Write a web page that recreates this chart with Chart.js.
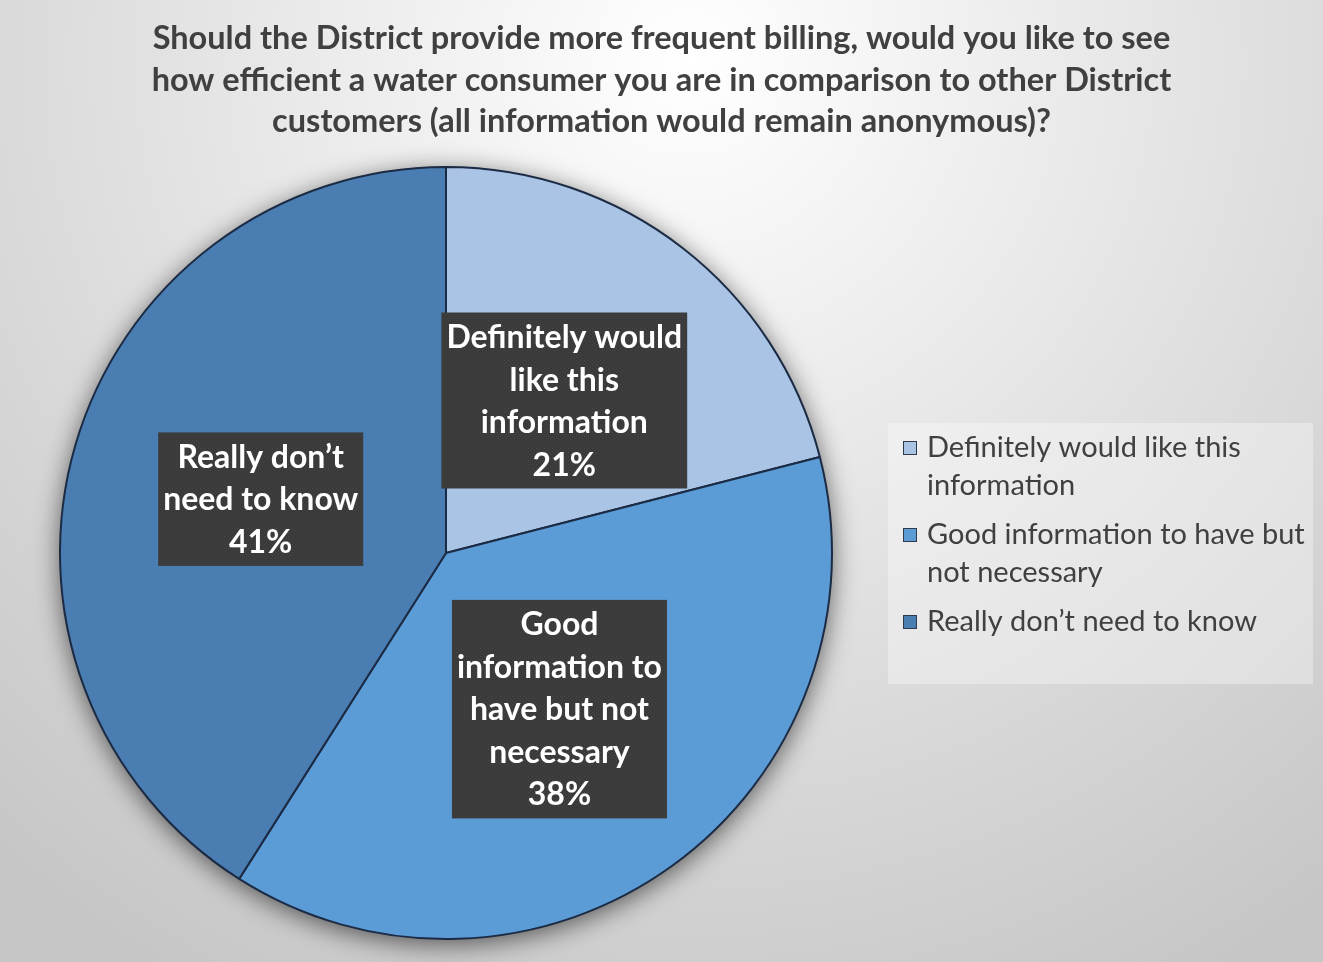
<!DOCTYPE html>
<html>
<head>
<meta charset="utf-8">
<title>More frequent billing – efficiency comparison</title>
<script src="https://cdn.jsdelivr.net/npm/chart.js@4.4.1/dist/chart.umd.min.js"></script>
<style>
  html, body { margin: 0; padding: 0; background: #d0d0d0; }
  #wrap { width: 1323px; height: 962px; }
</style>
</head>
<body>
<div id="wrap"><canvas id="pie" width="1323" height="962"></canvas></div>
<script>
// survey answers
const categories = [
  'Definitely would like this information',
  'Good information to have but not necessary',
  'Really don’t need to know'
];
const percentages = [21, 38, 41];

// how the answers are broken up inside the slice boxes and in the legend
const sliceLabelLines = [
  ['Definitely would', 'like this', 'information'],
  ['Good', 'information to', 'have but not', 'necessary'],
  ['Really don’t', 'need to know']
];
const legendLines = [
  ['Definitely would like this', 'information'],
  ['Good information to have but', 'not necessary'],
  ['Really don’t need to know']
];
const titleLines = [
  'Should the District provide more frequent billing, would you like to see',
  'how efficient a water consumer you are in comparison to other District',
  'customers (all information would remain anonymous)?'
];

const sliceColors = ['#aac4e6', '#5b9bd6', '#4a7eb3'];
const FONT = 'Lato, "Open Sans", sans-serif';

// gray radial backdrop, light behind the title
const backdrop = {
  id: 'backdrop',
  beforeDraw(chart) {
    const { ctx, width, height } = chart;
    const g = ctx.createRadialGradient(690, 60, 0, 690, 60, 1050);
    g.addColorStop(0, '#ffffff');
    g.addColorStop(0.35, '#ebebeb');
    g.addColorStop(0.75, '#d4d4d4');
    g.addColorStop(1, '#c6c6c6');
    ctx.save();
    ctx.fillStyle = g;
    ctx.fillRect(0, 0, width, height);

    ctx.fillStyle = '#404040';
    ctx.font = 'bold 32.5px ' + FONT;
    ctx.textAlign = 'center';
    ctx.textBaseline = 'middle';
    titleLines.forEach((line, i) => ctx.fillText(line, width / 2, 39 + i * 41.5));
    ctx.restore();
  }
};

// soft shadow under the whole pie
const pieShadow = {
  id: 'pieShadow',
  beforeDatasetsDraw(chart) {
    const arc = chart.getDatasetMeta(0).data[0];
    if (!arc) return;
    const { ctx } = chart;
    ctx.save();
    ctx.shadowColor = 'rgba(0,0,0,0.6)';
    ctx.shadowBlur = 26;
    ctx.shadowOffsetY = 5;
    ctx.fillStyle = sliceColors[2];
    ctx.beginPath();
    ctx.arc(arc.x, arc.y, arc.outerRadius, 0, Math.PI * 2);
    ctx.fill();
    ctx.restore();
  }
};

// dark boxes with the answer and its share
function dotPattern(ctx) {
  const c = document.createElement('canvas');
  c.width = 4; c.height = 4;
  const p = c.getContext('2d');
  p.fillStyle = '#3a3a3a';
  p.fillRect(0, 0, 4, 4);
  p.fillStyle = '#474747';
  p.fillRect(0, 0, 1, 1);
  p.fillRect(2, 2, 1, 1);
  return ctx.createPattern(c, 'repeat');
}

const sliceBoxes = {
  id: 'sliceBoxes',
  afterDatasetsDraw(chart) {
    const { ctx } = chart;
    const meta = chart.getDatasetMeta(0);
    const lineH = 42.5;
    ctx.save();
    ctx.font = 'bold 32px ' + FONT;
    ctx.textAlign = 'center';
    ctx.textBaseline = 'middle';
    const fill = dotPattern(ctx);
    meta.data.forEach((arc, i) => {
      const lines = sliceLabelLines[i].concat(percentages[i] + '%');
      const pos = arc.tooltipPosition();
      const w = Math.max(...lines.map(l => ctx.measureText(l).width)) + 10;
      const h = lines.length * lineH + 6;
      ctx.fillStyle = fill;
      ctx.fillRect(pos.x - w / 2, pos.y - h / 2, w, h);
      ctx.fillStyle = '#ffffff';
      lines.forEach((l, k) => {
        ctx.fillText(l, pos.x, pos.y - h / 2 + 4 + lineH * (k + 0.5));
      });
    });
    ctx.restore();
  }
};

// legend on the right, entries wrap onto two lines
const sideLegend = {
  id: 'sideLegend',
  afterDraw(chart) {
    const { ctx } = chart;
    ctx.save();
    ctx.fillStyle = 'rgba(255,255,255,0.33)';
    ctx.fillRect(888, 423, 425, 261);
    ctx.font = '29px ' + FONT;
    ctx.textBaseline = 'middle';
    let y = 448;
    legendLines.forEach((lines, i) => {
      ctx.fillStyle = sliceColors[i];
      ctx.fillRect(903, y - 7, 14, 14);
      ctx.strokeStyle = '#2f3b4c';
      ctx.lineWidth = 1;
      ctx.strokeRect(903.5, y - 6.5, 13, 13);
      ctx.fillStyle = '#404040';
      lines.forEach((l, k) => ctx.fillText(l, 927, y + k * 38));
      y += (lines.length - 1) * 38 + 49;
    });
    ctx.restore();
  }
};

new Chart(document.getElementById('pie'), {
  type: 'pie',
  data: {
    labels: categories,
    datasets: [{
      data: percentages,
      backgroundColor: sliceColors,
      borderColor: '#1c2b44',
      borderWidth: 2
    }]
  },
  options: {
    responsive: false,
    animation: false,
    layout: { padding: { left: 59, right: 490, top: 166, bottom: 22 } },
    plugins: {
      legend: { display: false },
      tooltip: { enabled: false },
      title: { display: false }
    }
  },
  plugins: [backdrop, pieShadow, sliceBoxes, sideLegend]
});
</script>
</body>
</html>
